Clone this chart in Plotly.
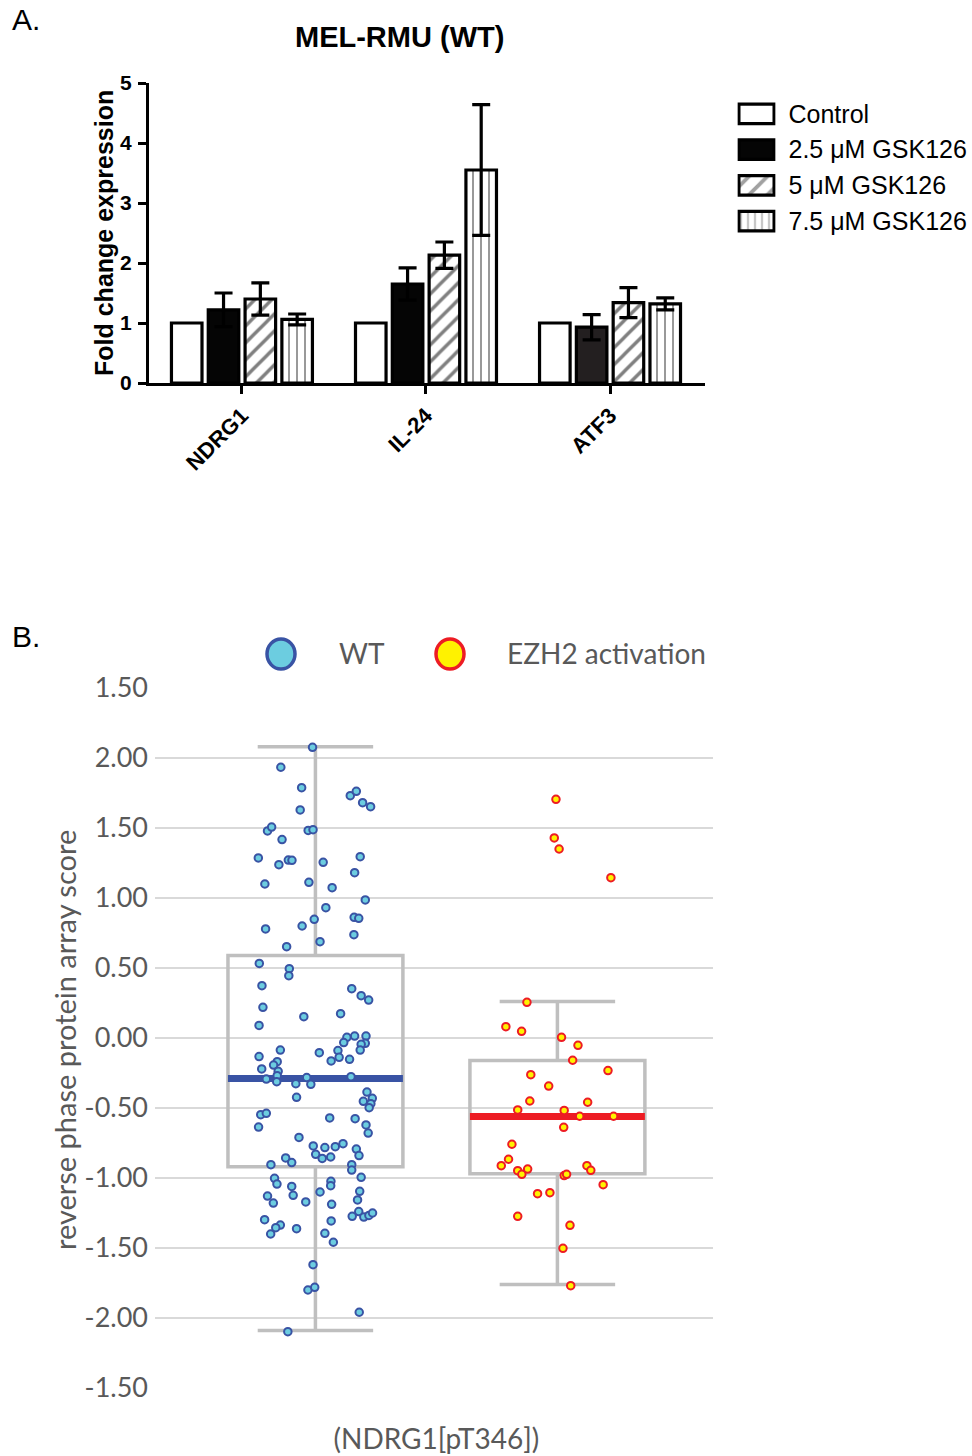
import plotly.graph_objects as go

# ---------------- Panel A data ----------------
genes = ["NDRG1", "IL-24", "ATF3"]
treatments = ["Control", "2.5 μM GSK126", "5 μM GSK126", "7.5 μM GSK126"]
fold_control = [1.0, 1.0, 1.0]
fold_2_5 = [1.22, 1.65, 0.93]
fold_5 = [1.40, 2.13, 1.34]
fold_7_5 = [1.06, 3.55, 1.32]
err_2_5 = [0.28, 0.27, 0.21]
err_5 = [0.27, 0.22, 0.25]
err_7_5 = [0.09, 1.09, 0.10]
a_yticks = [0, 1, 2, 3, 4, 5]

# ---------------- Panel B data ----------------
groups = ["WT", "EZH2 activation"]
group_pos = [0, 1]
category_label = "(NDRG1[pT346])"
b_tickvals = [-2.5, -2.0, -1.5, -1.0, -0.5, 0.0, 0.5, 1.0, 1.5, 2.0, 2.5]
b_ticktext = ["-1.50", "-2.00", "-1.50", "-1.00", "-0.50", "0.00",
              "0.50", "1.00", "1.50", "2.00", "1.50"]

wt_q1, wt_median, wt_q3, wt_low, wt_high = -0.92, -0.29, 0.59, -2.09, 2.08
ez_q1, ez_median, ez_q3, ez_low, ez_high = -0.97, -0.56, -0.16, -1.76, 0.26

wt_values = [
    2.076, 1.934, 1.788, 1.731, 1.762, 1.681, 1.652, 1.629, 1.479, 1.507,
    1.483, 1.488, 1.417, 1.286, 1.238, 1.271, 1.269, 1.255, 1.295, 1.181,
    1.100, 1.112, 1.074, 0.986, 0.931, 0.848, 0.862, 0.855, 0.779, 0.800,
    0.738, 0.688, 0.652, 0.533, 0.495, 0.445, 0.374, 0.352, 0.302, 0.271,
    0.219, 0.152, 0.174, 0.090,
    0.005, 0.014, 0.014, -0.033, -0.038, -0.045, -0.090, -0.086, -0.105, -0.086,
    -0.133, -0.138, -0.152, -0.164, -0.169, -0.193, -0.221, -0.238, -0.269, -0.293,
    -0.312, -0.283, -0.326, -0.331, -0.276, -0.386, -0.431, -0.452, -0.469, -0.498,
    -0.424, -0.548, -0.538, -0.571, -0.576, -0.636, -0.621, -0.679, -0.710, -0.771,
    -0.783, -0.776, -0.755, -0.793, -0.840, -0.831, -0.860, -0.850, -0.857, -0.890,
    -0.905, -0.905, -0.943, -0.995, -1.002, -1.043, -1.024, -1.055, -1.060, -1.124,
    -1.100, -1.095, -1.129, -1.179, -1.171, -1.188, -1.157, -1.240, -1.274, -1.279,
    -1.267, -1.250, -1.298, -1.336, -1.355, -1.400, -1.362, -1.307, -1.395, -1.459,
    -1.619, -1.800, -1.781, -1.959, -2.098,
]
wt_jitter = [
    -0.012, -0.143, -0.057, 0.144, 0.169, 0.195, 0.228, -0.063, -0.198, -0.181,
    -0.030, -0.010, -0.138, -0.236, -0.151, -0.112, -0.097, 0.032, 0.185, 0.162,
    -0.209, -0.027, 0.069, 0.206, 0.043, -0.005, 0.160, 0.179, -0.206, -0.055,
    0.159, 0.019, -0.119, -0.232, -0.108, -0.110, -0.221, 0.150, 0.189, 0.220,
    -0.217, -0.048, 0.104, -0.233,
    0.130, 0.162, 0.209, 0.117, 0.206, 0.189, 0.093, -0.145, 0.016, 0.185,
    -0.233, 0.098, 0.141, 0.065, -0.158, -0.173, -0.222, -0.154, -0.158, -0.203,
    -0.160, -0.036, -0.081, -0.019, 0.147, 0.213, 0.235, 0.198, 0.229, 0.222,
    -0.078, -0.226, -0.203, 0.059, 0.164, -0.235, 0.209, 0.218, -0.068, -0.009,
    0.039, 0.082, 0.114, 0.169, 0.180, 0.001, 0.028, 0.063, -0.123, -0.098,
    -0.184, 0.150, 0.150, 0.189, -0.169, -0.159, 0.064, 0.063, -0.098, -0.092,
    0.019, 0.183, -0.198, -0.174, -0.040, 0.067, 0.174, 0.179, 0.152, 0.200,
    0.221, 0.236, -0.210, -0.145, -0.164, -0.185, -0.078, 0.065, 0.039, 0.074,
    -0.010, -0.031, -0.003, 0.181, -0.114,
]
ez_values = [
    1.705, 1.429, 1.350, 1.145, 0.255,
    0.081, 0.048, 0.005, -0.052, -0.159, -0.262, -0.233, -0.343, -0.450, -0.459,
    -0.514, -0.517, -0.559, -0.559, -0.638, -0.759, -0.866, -0.912, -0.948, -0.974,
    -0.936, -0.912, -0.945, -0.983, -0.974, -1.048, -1.112, -1.105, -1.274, -1.338,
    -1.502, -1.769,
]
ez_jitter = [
    -0.006, -0.013, 0.007, 0.221, -0.126,
    -0.213, -0.148, 0.017, 0.085, 0.063, -0.110, 0.209, -0.036, -0.114, 0.125,
    -0.164, 0.028, 0.092, 0.232, 0.026, -0.188, -0.202, -0.232, -0.164, -0.147,
    -0.123, 0.122, 0.138, 0.028, 0.038, 0.189, -0.082, -0.031, -0.164, 0.052,
    0.023, 0.055,
]

# ---------------- styles ----------------
BOLD = "Liberation Sans, Arial, sans-serif"
SANS = "Liberation Sans, Arial, sans-serif"
CAL = "Lato, Carlito, Calibri, sans-serif"
GRAY_TXT = "#595959"
box_width = 0.723

fig = go.Figure()

# ---------------- Panel A bars ----------------
bar_specs = [
    (fold_control, None, "white", ""),
    (fold_2_5, err_2_5, ["#050505", "#050505", "#231f20"], ""),
    (fold_5, err_5, "white", "/"),
    (fold_7_5, err_7_5, "white", "|"),
]
for name, (vals, errs, col, shape) in zip(treatments, bar_specs):
    pat = dict(shape=shape, fgcolor="black", bgcolor="white", fillmode="overlay",
               size=12 if shape == "/" else 8, solidity=0.28 if shape == "/" else 0.2)
    fig.add_trace(go.Bar(
        x=genes, y=vals, name=name,
        marker=dict(color=col, line=dict(color="black", width=3.2), pattern=pat),
        error_y=dict(type="data", array=errs, visible=errs is not None,
                     color="black", thickness=3.2, width=9),
        xaxis="x", yaxis="y", showlegend=False,
    ))

# legend for panel A drawn as a small horizontal-bar subplot
leg_colors = ["white", "#050505", "white", "white"]
leg_shapes = ["", "", "/", "|"]
fig.add_trace(go.Bar(
    y=treatments, x=[1] * len(treatments), orientation="h", width=0.55,
    marker=dict(color=leg_colors, line=dict(color="black", width=3.2),
                pattern=dict(shape=leg_shapes, fgcolor="black", bgcolor="white",
                             fillmode="overlay", size=[11, 11, 13, 7],
                             solidity=[0.3, 0.3, 0.3, 0.2])),
    xaxis="x3", yaxis="y3", showlegend=False, hoverinfo="skip",
))

# ---------------- Panel B ----------------
box_specs = [
    (group_pos[0], wt_q1, wt_median, wt_q3, wt_low, wt_high, "#3953a4"),
    (group_pos[1], ez_q1, ez_median, ez_q3, ez_low, ez_high, "#ed1c24"),
]
for (pos, q1, med, q3, lo, hi, mcol), g in zip(box_specs, groups):
    fig.add_trace(go.Box(
        x=[pos], q1=[q1], median=[med], q3=[q3], lowerfence=[lo], upperfence=[hi],
        width=box_width, whiskerwidth=0.66, boxpoints=False,
        line=dict(color="#bfbfbf", width=3.5), fillcolor="rgba(0,0,0,0)",
        xaxis="x2", yaxis="y2", showlegend=False, name=g,
    ))
    fig.add_trace(go.Scatter(
        x=[pos - box_width / 2, pos + box_width / 2], y=[med, med], mode="lines",
        line=dict(color=mcol, width=7), xaxis="x2", yaxis="y2", showlegend=False,
        hoverinfo="skip",
    ))

fig.add_trace(go.Scatter(
    x=[group_pos[0] + j for j in wt_jitter], y=wt_values, mode="markers",
    marker=dict(size=7.5, color="#6ccde0", line=dict(color="#3953a4", width=2)),
    xaxis="x2", yaxis="y2", showlegend=False, name=groups[0],
))
fig.add_trace(go.Scatter(
    x=[group_pos[1] + j for j in ez_jitter], y=ez_values, mode="markers",
    marker=dict(size=7.5, color="#fff200", line=dict(color="#ed1c24", width=2)),
    xaxis="x2", yaxis="y2", showlegend=False, name=groups[1],
))

H = 1456.0
W = 972.0


def px(x):
    return x / W


def py(y):
    return 1 - y / H


fig.update_layout(
    width=972, height=1456,
    margin=dict(l=0, r=0, t=0, b=0, autoexpand=False),
    paper_bgcolor="white", plot_bgcolor="rgba(0,0,0,0)",
    showlegend=False, barmode="group", bargap=0.2, bargroupgap=0.17,
    xaxis=dict(domain=[px(149), px(705)], range=[-0.505, 2.516],
               showline=True, linecolor="black", linewidth=3,
               ticks="outside", ticklen=8, tickwidth=3, tickcolor="black",
               tickangle=-45, showgrid=False, zeroline=False,
               tickfont=dict(family=BOLD, size=22, color="black", weight="bold"),
               anchor="y"),
    yaxis=dict(domain=[py(383), py(83)], range=[0, 5], tickvals=a_yticks,
               showline=True, linecolor="black", linewidth=3,
               ticks="outside", ticklen=8, tickwidth=3, tickcolor="black",
               showgrid=False, zeroline=False, ticklabelstandoff=2,
               tickfont=dict(family=BOLD, size=21, color="black", weight="bold"),
               anchor="x"),
    xaxis3=dict(domain=[px(737.5), px(775.5)], range=[-0.04, 1.04], visible=False,
                anchor="y3"),
    yaxis3=dict(domain=[py(239), py(96)], range=[3.5, -0.5], side="right",
                showline=False, showgrid=False, zeroline=False, ticks="",
                ticklabelstandoff=12,
                tickfont=dict(family=SANS, size=25, color="black"),
                anchor="x3"),
    xaxis2=dict(domain=[px(155), px(713)], range=[-0.663, 1.643],
                tickvals=[(group_pos[0] + group_pos[1]) / 2], ticktext=[category_label],
                showline=False, showgrid=False, zeroline=False, ticks="",
                ticklabelstandoff=32,
                tickfont=dict(family=CAL, size=28, color=GRAY_TXT), anchor="y2"),
    yaxis2=dict(domain=[py(1388), py(688)], range=[-2.5, 2.5],
                tickvals=b_tickvals, ticktext=b_ticktext,
                showline=False, showgrid=True, gridcolor="#d9d9d9", gridwidth=1.8,
                zeroline=False, ticks="", ticklabelstandoff=6,
                tickfont=dict(family=CAL, size=27, color=GRAY_TXT), anchor="x2"),
)

annotations = [
    dict(text="A.", x=px(10), y=py(20), xanchor="left", yanchor="middle",
         font=dict(family=SANS, size=30, color="black")),
    dict(text="B.", x=px(10), y=py(636), xanchor="left", yanchor="middle",
         font=dict(family=SANS, size=30, color="black")),
    dict(text="MEL-RMU (WT)", x=px(399), y=py(37), xanchor="center", yanchor="middle",
         font=dict(family=BOLD, size=29, color="black", weight="bold")),
    dict(text="Fold change expression", x=px(104), y=py(233), textangle=-90,
         xanchor="center", yanchor="middle",
         font=dict(family=BOLD, size=25, color="black", weight="bold")),
    dict(text="reverse phase protein array score", x=px(64), y=py(1040), textangle=-90,
         xanchor="center", yanchor="middle",
         font=dict(family=CAL, size=29, color=GRAY_TXT)),
    dict(text=groups[0], x=px(337), y=py(653), xanchor="left", yanchor="middle",
         font=dict(family=CAL, size=28, color=GRAY_TXT)),
    dict(text=groups[1], x=px(505), y=py(653), xanchor="left", yanchor="middle",
         font=dict(family=CAL, size=28, color=GRAY_TXT)),
]
for a in annotations:
    a.update(xref="paper", yref="paper", showarrow=False)
fig.update_layout(annotations=annotations)

fig.update_layout(shapes=[
    dict(type="circle", xref="paper", yref="paper",
         x0=px(267), x1=px(295), y0=py(669), y1=py(639),
         fillcolor="#6ccde0", line=dict(color="#3953a4", width=3.5)),
    dict(type="circle", xref="paper", yref="paper",
         x0=px(436), x1=px(464), y0=py(669), y1=py(639),
         fillcolor="#fff200", line=dict(color="#ed1c24", width=3.5)),
])

fig.write_html("out.html", config={"displayModeBar": False},
               post_script="document.body.style.margin='0';")
